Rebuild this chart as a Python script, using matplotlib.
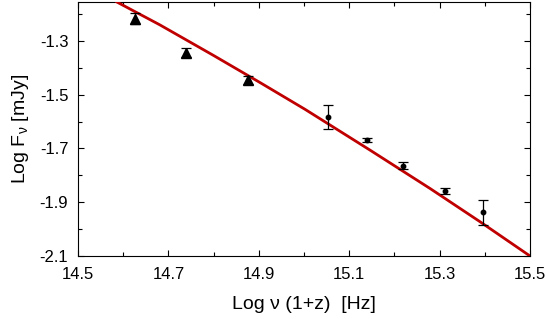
import matplotlib
matplotlib.use('Agg')
import matplotlib.pyplot as plt
from matplotlib.ticker import MultipleLocator

plt.rcParams['font.family'] = ['Liberation Sans', 'DejaVu Sans']
plt.rcParams['axes.unicode_minus'] = False

# triangles (near-IR)
x_tri = [14.626, 14.740, 14.875]
y_tri = [-1.217, -1.343, -1.445]
e_tri = [0.020, 0.016, 0.015]

# circles (optical / UV)
x_dot = [15.054, 15.140, 15.220, 15.311, 15.397]
y_dot = [-1.584, -1.668, -1.764, -1.859, -1.938]
e_dot = [0.045, 0.0075, 0.014, 0.012, 0.045]

# model curve
x_fit = [14.586, 14.681, 14.800, 14.903, 15.002, 15.146, 15.279, 15.389, 15.500]
y_fit = [-1.155, -1.240, -1.354, -1.455, -1.554, -1.706, -1.849, -1.972, -2.100]

fig = plt.figure(figsize=(5.46, 3.19), dpi=100)
ax = fig.add_axes([78/546, 1-256/319, (530-78)/546, (256-2)/319])

ax.plot(x_fit, y_fit, color='#c00000', lw=2.0, zorder=3)
ax.errorbar(x_tri, y_tri, yerr=e_tri, fmt='^', color='black', ms=7,
            capsize=3.5, elinewidth=0.9, capthick=0.9, zorder=4)
ax.errorbar(x_dot, y_dot, yerr=e_dot, fmt='o', color='black', ms=3.2,
            capsize=3.5, elinewidth=0.9, capthick=0.9, zorder=4)

ax.set_xlim(14.5, 15.5)
ax.set_ylim(-2.1, -1.155)
ax.set_xticks([14.5, 14.7, 14.9, 15.1, 15.3, 15.5])
ax.set_yticks([-2.1, -1.9, -1.7, -1.5, -1.3])
ax.xaxis.set_minor_locator(MultipleLocator(0.1))
ax.yaxis.set_minor_locator(MultipleLocator(0.1))
ax.tick_params(which='both', direction='in', top=True, right=True, labelsize=12)
ax.tick_params(which='major', length=4, width=0.8)
ax.tick_params(which='minor', length=3, width=0.8)
ax.tick_params(axis='x', pad=8)
ax.tick_params(axis='y', pad=7)

ax.set_xlabel('Log \u03bd (1+z)  [Hz]', fontsize=14, labelpad=10)
ax.set_ylabel(r'Log F$_\mathregular{\nu}$ [mJy]', fontsize=14, labelpad=6)

fig.savefig('out.png', dpi=100)
